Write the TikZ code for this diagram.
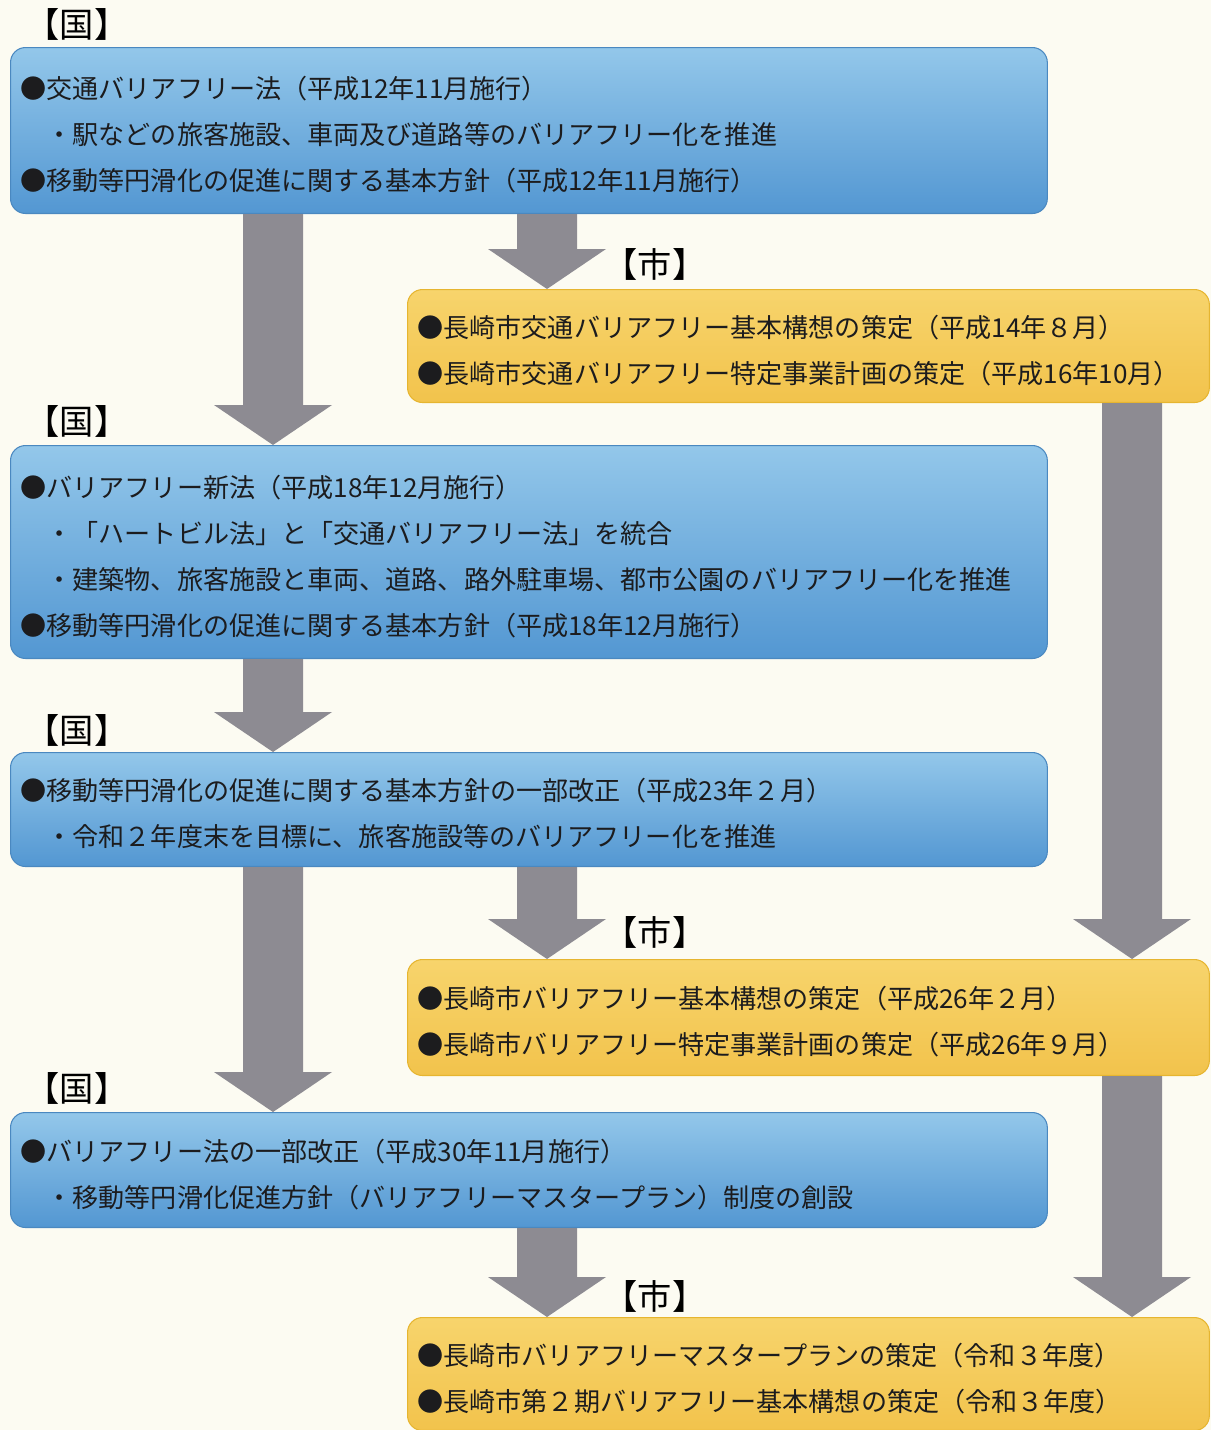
\documentclass[tikz,border=0pt]{standalone}
\usepackage{fontspec}
\setmainfont{Noto Sans CJK JP}
\usetikzlibrary{calc}
\definecolor{bg}{HTML}{FCFBF2}
\definecolor{blueTop}{HTML}{93C7EA}
\definecolor{blueBot}{HTML}{5397D2}
\definecolor{blueEdge}{HTML}{4A88C0}
\definecolor{yelTop}{HTML}{F7D46C}
\definecolor{yelBot}{HTML}{F2C34C}
\definecolor{yelEdge}{HTML}{E6B530}
\definecolor{agray}{HTML}{8D8B92}
\definecolor{ink}{HTML}{1C1C1E}
\newcommand\blockarrow[2]{%
  \fill[agray] ($(#1)+(-30,0)$) -- ($(#1)+(30,0)$) -- ($(#2)+(30,-40)$)
    -- ($(#2)+(59,-40)$) -- (#2) -- ($(#2)+(-59,-40)$) -- ($(#2)+(-30,-40)$) -- cycle;}
\tikzset{
  txt/.style={font=\fontsize{14.85}{26.2}\selectfont, text=ink,
    execute at begin node={\rule{0pt}{17.5pt}}},
  bluebox/.style={txt, anchor=north west, rounded corners=0.3cm, draw=blueEdge, line width=0.6pt,
    top color=blueTop, bottom color=blueBot, align=left, inner xsep=0.2cm, inner ysep=0pt,
    text width=20.34cm, minimum width=20.74cm},
  yelbox/.style={txt, anchor=north west, rounded corners=0.3cm, draw=yelEdge, line width=0.6pt,
    top color=yelTop, bottom color=yelBot, align=left, inner xsep=0.2cm, inner ysep=0pt,
    text width=15.64cm, minimum width=16.04cm},
  tag/.style={font=\fontsize{19.5}{22}\selectfont, text=black, inner sep=0pt}
}
\begin{document}
\begin{tikzpicture}[x=0.02cm, y=-0.02cm]
\fill[bg] (0,0) rectangle (1211,1430);
\useasboundingbox (0,0) rectangle (1211,1430);

\node[bluebox, minimum height=3.32cm] (b1) at (10,47) {%
●交通バリアフリー法（平成12年11月施行）\\
\hspace*{1em}・駅などの旅客施設、車両及び道路等のバリアフリー化を推進\\
●移動等円滑化の促進に関する基本方針（平成12年11月施行）};

\node[yelbox, minimum height=2.26cm] (y1) at (407,289) {%
●長崎市交通バリアフリー基本構想の策定（平成14年８月）\\
●長崎市交通バリアフリー特定事業計画の策定（平成16年10月）};

\node[bluebox, minimum height=4.26cm] (b2) at (10,445) {%
●バリアフリー新法（平成18年12月施行）\\
\hspace*{1em}・「ハートビル法」と「交通バリアフリー法」を統合\\
\hspace*{1em}・建築物、旅客施設と車両、道路、路外駐車場、都市公園のバリアフリー化を推進\\
●移動等円滑化の促進に関する基本方針（平成18年12月施行）};

\node[bluebox, minimum height=2.28cm] (b3) at (10,752) {%
●移動等円滑化の促進に関する基本方針の一部改正（平成23年２月）\\
\hspace*{1em}・令和２年度末を目標に、旅客施設等のバリアフリー化を推進};

\node[yelbox, minimum height=2.32cm] (y2) at (407,959) {%
●長崎市バリアフリー基本構想の策定（平成26年２月）\\
●長崎市バリアフリー特定事業計画の策定（平成26年９月）};

\node[bluebox, minimum height=2.30cm] (b4) at (10,1112) {%
●バリアフリー法の一部改正（平成30年11月施行）\\
\hspace*{1em}・移動等円滑化促進方針（バリアフリーマスタープラン）制度の創設};

\node[yelbox, minimum height=2.26cm] (y3) at (407,1317) {%
●長崎市バリアフリーマスタープランの策定（令和３年度）\\
●長崎市第２期バリアフリー基本構想の策定（令和３年度）};

% labels
\node[tag] (t1) at (77,24) {【国】};
\node[tag] (t2) at (77,421) {【国】};
\node[tag] (t3) at (77,730) {【国】};
\node[tag] (t4) at (77,1088) {【国】};
\node[tag] (s1) at (655,264) {【市】};
\node[tag] (s2) at (655,932) {【市】};
\node[tag] (s3) at (655,1296) {【市】};

% arrow end points
\coordinate (a1s) at (273,0 |- b1.south);
\coordinate (a1e) at (273,0 |- b2.north);
\coordinate (a2s) at (547,0 |- b1.south);
\coordinate (a2e) at (547,0 |- y1.north);
\coordinate (a3s) at (273,0 |- b2.south);
\coordinate (a3e) at (273,0 |- b3.north);
\coordinate (a4s) at (1132,0 |- y1.south);
\coordinate (a4e) at (1132,0 |- y2.north);
\coordinate (a5s) at (547,0 |- b3.south);
\coordinate (a5e) at (547,0 |- y2.north);
\coordinate (a6s) at (273,0 |- b3.south);
\coordinate (a6e) at (273,0 |- b4.north);
\coordinate (a7s) at (547,0 |- b4.south);
\coordinate (a7e) at (547,0 |- y3.north);
\coordinate (a8s) at (1132,0 |- y2.south);
\coordinate (a8e) at (1132,0 |- y3.north);

\blockarrow{a1s}{a1e}
\blockarrow{a2s}{a2e}
\blockarrow{a3s}{a3e}
\blockarrow{a4s}{a4e}
\blockarrow{a5s}{a5e}
\blockarrow{a6s}{a6e}
\blockarrow{a7s}{a7e}
\blockarrow{a8s}{a8e}
\end{tikzpicture}
\end{document}
